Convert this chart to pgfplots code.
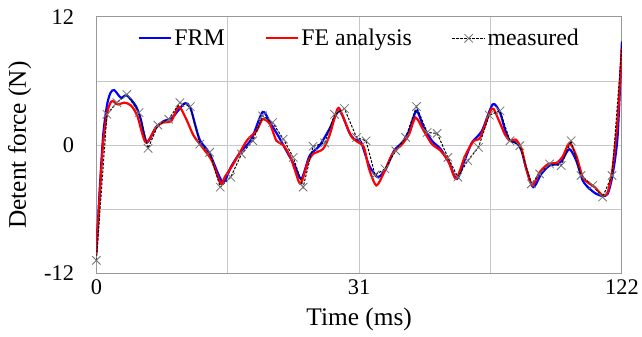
\documentclass[border=0pt]{standalone}
\usepackage{fontspec}
\setmainfont{Liberation Serif}
\usepackage{pgfplots}
\pgfplotsset{compat=1.18}
\definecolor{frmblue}{RGB}{0,0,255}
\definecolor{fered}{RGB}{255,0,0}
\begin{document}
\begin{tikzpicture}
\begin{axis}[
  scale only axis, width=529bp, height=258bp,
  xmin=0, xmax=122, ymin=-12, ymax=12,
  xtick={0,30.5,61,91.5,122}, xticklabels={0,,31,,122},
  ytick={-12,-6,0,6,12}, yticklabels={-12,,0,,12},
  grid=major, major grid style={draw=black!22, line width=0.9bp},
  axis line style={draw=black!40, line width=1bp},
  major tick length=0pt,
  tick label style={font=\fontsize{22.5bp}{26bp}\selectfont},
  xticklabel style={yshift=-3bp},
  yticklabel style={xshift=-19bp},
  xlabel={Time (ms)}, ylabel={Detent force (N)},
  label style={font=\fontsize{25.5bp}{30bp}\selectfont},
  xlabel style={at={(axis description cs:0.5,-0.182)}, anchor=center},
  ylabel style={at={(axis description cs:-0.146,0.5)}, anchor=center},
  legend style={at={(axis description cs:0.5,0.995)}, anchor=north, yshift=-7bp, draw=none, fill=none,
    font=\fontsize{24bp}{28bp}\selectfont, legend columns=3,
    /tikz/every even column/.append style={column sep=38bp}},
  legend image code/.code={\draw[mark repeat=2,mark phase=2,#1] plot coordinates {(-5bp,0bp) (11.5bp,0bp) (28bp,0bp)};},
]
\addplot[frmblue, line width=2.2bp, smooth, tension=0.45] coordinates {
(0,-10) (0.8,-4) (1.6,1) (2.5,3.8) (3.3,4.9) (4.15,5.15) (5.7,4.43) (7.07,4.65)
(9.15,3.66) (10.3,2.42) (11.7,0.25) (13.8,1.65) (15.7,2.26) (17.6,2.57) (20.45,3.9)
(21.8,3.5) (23.0,1.8) (24.1,0.4) (26.3,-0.8) (29.3,-3.45) (31.3,-2.0) (33.4,-0.68)
(36.0,0.56) (38.6,3.1) (40.3,2.1) (42.2,0.87) (44.1,-0.53) (46.0,-1.9) (47.6,-3.16)
(49.5,-1.0) (51.8,-0.06) (54.1,1.5) (56.4,3.2) (58.7,1.18) (60.0,0.5) (61.4,0.3)
(63.3,-1.9) (65.3,-3.0) (67.2,-2.23) (69.1,-0.53) (71.0,0.25) (72.6,1.33) (74.3,3.2)
(76.0,1.65) (77.9,0.4) (79.9,-0.37) (81.8,-1.6) (83.7,-3.16) (85.6,-1.3) (87.2,0.25)
(89.5,1.33) (92.0,3.81) (93.7,3.04) (94.8,1.5) (96.0,0.4) (97.5,0.25) (98.7,-0.53)
(99.8,-2.23) (101.4,-3.94) (103.3,-2.7) (105.2,-1.92) (107.2,-1.77) (108.3,-1.3)
(109.8,-0.37) (111.4,-1.46) (112.9,-3.32) (114.5,-4.1) (116.0,-4.56) (117.5,-4.78)
(118.7,-4.56) (119.8,-2.85) (121.0,0.87) (122,9.7)
};
\addlegendentry{FRM}
\addplot[fered, line width=2.2bp, smooth, tension=0.45] coordinates {
(0,-10.2) (0.8,-4.5) (1.6,0.3) (2.5,3.0) (3.2,3.9) (3.77,4.12) (5.0,3.8) (6.46,3.97)
(8.0,3.72) (9.5,2.73) (11.45,0.25) (13.8,1.6) (15.3,2.1) (17.4,2.26) (19.1,3.6)
(20.7,2.57) (22.6,0.87) (24.9,-0.37) (26.8,-1.46) (28.9,-3.63) (29.8,-3.0) (31.8,-1.77)
(34.9,0.4) (37.2,1.33) (38.6,2.42) (40.3,1.95) (41.8,0.4) (43.4,0) (44.9,-1.0)
(46.0,-2.23) (47.4,-3.63) (49.1,-1.6) (50.3,-0.84) (52.6,-0.37) (54.1,0.87) (56.0,3.41)
(57.0,2.9) (59.1,0.87) (60.6,0.3) (62.1,-0.2) (63.3,-2.23) (65.0,-3.78) (66.8,-2.54)
(68.7,-0.84) (71.0,0.09) (72.6,1.02) (74.1,2.57) (76.0,1.33) (77.9,0.09) (79.9,-0.53)
(81.8,-1.6) (83.5,-3.16) (85.6,-1.0) (87.6,0.4) (89.1,0.71) (91.8,3.41) (93.3,2.42)
(94.8,1.02) (96.0,0.4) (97.4,0.5) (98.7,-0.37) (99.8,-2.23) (101.2,-3.78) (102.9,-2.54)
(104.9,-1.77) (106.8,-1.67) (108.3,-1.05) (109.8,0.19) (111.4,-1.0) (112.9,-3.0)
(114.5,-3.63) (115.7,-3.94) (117.5,-4.71) (118.7,-4.4) (119.8,-2.23) (121.0,2.42) (122,9.2)
};
\addlegendentry{FE analysis}
\addplot[black, line width=1bp, dash pattern=on 2.5bp off 1.5bp, mark=x, mark size=6bp,
  mark options={solid, draw=black!55, line width=0.8bp}] coordinates {
(0,-10.8) (2.46,2.88) (4.77,3.97) (7.07,4.74) (9.9,3.04) (12.0,-0.31) (14.3,1.86)
(16.8,2.42) (19.4,3.97) (21.8,3.6) (24.0,0.09) (26.3,-0.68) (28.75,-3.94) (31.2,-3.0)
(33.7,-0.84) (36.3,0.4) (38.6,2.73) (40.9,2.1) (43.4,0.56) (45.7,-1.15) (48.0,-3.94)
(50.3,-0.12) (53.0,0.2) (55.3,2.88) (57.6,3.41) (60.4,0.7) (62.6,0.4) (64.7,-2.8)
(67.0,-2.23) (69.5,-0.53) (71.8,0.71) (74.3,3.6) (76.8,1.18) (79.1,1.09) (81.6,-1.15)
(83.9,-3.0) (86.2,-1.46) (88.7,-0.22) (91.2,2.8) (93.7,3.2) (96.0,0.4) (98.3,-0.06)
(101.0,-3.63) (102.9,-2.7) (105.2,-1.77) (107.9,-1.92) (110.2,0.4) (112.5,-2.85)
(115.2,-3.78) (117.5,-4.87) (119.7,-2.85)
};
\addlegendentry{measured}
\addplot[black, line width=1bp, dash pattern=on 2.5bp off 1.5bp, forget plot] coordinates {
(119.7,-2.85) (122,9.4)
};
\end{axis}
\path (current axis.south west) +(-97bp,-64bp) (current axis.north east) +(16bp,17bp);
\end{tikzpicture}
\end{document}
